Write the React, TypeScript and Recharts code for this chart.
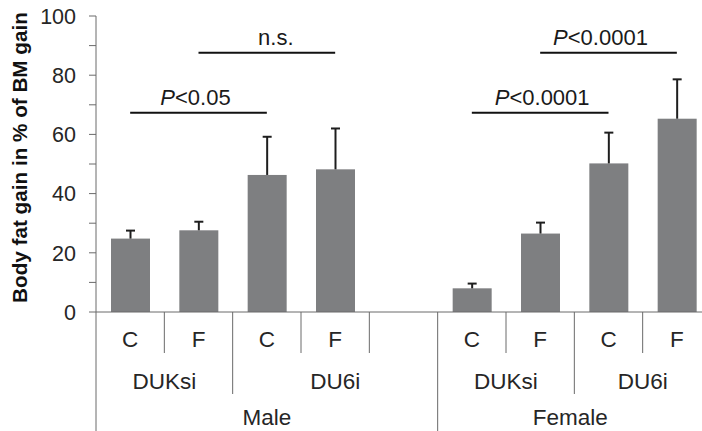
import React from 'react';
import { BarChart, Bar, XAxis, YAxis, ReferenceLine } from 'recharts';

const categories = ['M-DUKsi-C', 'M-DUKsi-F', 'M-DU6i-C', 'M-DU6i-F', 'gap', 'F-DUKsi-C', 'F-DUKsi-F', 'F-DU6i-C', 'F-DU6i-F'];
const dietLabels = ['C', 'F', 'C', 'F', '', 'C', 'F', 'C', 'F'];
const means: (number | null)[] = [24.8, 27.6, 46.3, 48.2, null, 8.0, 26.5, 50.2, 65.3];
const errors: (number | null)[] = [2.7, 2.9, 12.9, 13.8, null, 1.6, 3.7, 10.4, 13.3];
const strainGroups = [
  { label: 'DUKsi', start: 0, end: 2 },
  { label: 'DU6i', start: 2, end: 5 },
  { label: 'DUKsi', start: 5, end: 7 },
  { label: 'DU6i', start: 7, end: 9 },
];
const sexGroups = [
  { label: 'Male', start: 0, end: 5 },
  { label: 'Female', start: 5, end: 9 },
];
const yTicks = [0, 10, 20, 30, 40, 50, 60, 70, 80, 90, 100];
const yLabelTicks = [0, 20, 40, 60, 80, 100];
const annotations = [
  { from: 'M-DUKsi-C', to: 'M-DU6i-C', y: 67.3, italic: 'P', text: '<0.05' },
  { from: 'M-DUKsi-F', to: 'M-DU6i-F', y: 87.6, italic: '', text: 'n.s.' },
  { from: 'F-DUKsi-C', to: 'F-DU6i-C', y: 67.3, italic: 'P', text: '<0.0001' },
  { from: 'F-DUKsi-F', to: 'F-DU6i-F', y: 87.6, italic: 'P', text: '<0.0001' },
];
const yTitle = 'Body fat gain in % of BM gain';

const data = categories.map((id, i) => ({ id, mean: means[i], err: errors[i], diet: dietLabels[i] }));

const FONT = '"Liberation Sans", Arial, Helvetica, sans-serif';
const TEXT = '#262626';
const AXIS = '#6a6a6a';
// small horizontal nudges of the significance labels relative to their line centre
const SIG_NUDGE = [-3, 9, 2, -8];

const BarWithError = (props: any) => {
  const { x, y, width, height, payload } = props;
  if (!payload || payload.mean == null || !height) return null;
  const pxPerUnit = height / payload.mean;
  const top = y - (payload.err || 0) * pxPerUnit;
  const cx = x + width / 2;
  return (
    <g>
      <rect x={x} y={y} width={width} height={height} fill="#7e7f81" />
      <line x1={cx} x2={cx} y1={y} y2={top} stroke="#1e1e1e" strokeWidth={2} />
      <line x1={cx - 4.5} x2={cx + 4.5} y1={top} y2={top} stroke="#1e1e1e" strokeWidth={2} />
    </g>
  );
};

const XTick = (props: any) => {
  const { x, y, payload, index, width, visibleTicksCount } = props;
  const half = payload && payload.offset ? payload.offset : width / (visibleTicksCount || categories.length) / 2;
  const slot = half * 2;
  const left = x - half;
  const isSex = sexGroups.some((g) => g.start === index);
  const isStrain = strainGroups.some((g) => g.start === index);
  const depth = isSex ? 125 : isStrain ? 82 : 41;
  const strain = strainGroups.find((g) => g.start === index);
  const sex = sexGroups.find((g) => g.start === index);
  const t = { fontFamily: FONT, fontSize: 22.5, fill: TEXT, textAnchor: 'middle' as const };
  return (
    <g>
      <line x1={left} x2={left} y1={y} y2={y + depth} stroke={AXIS} strokeWidth={1} />
      {dietLabels[index] ? (
        <text x={x} y={y + 27} dy="0.36em" {...t}>{dietLabels[index]}</text>
      ) : null}
      {strain ? (
        <text x={left + ((strain.end - strain.start) * slot) / 2} y={y + 69} dy="0.36em" {...t}>{strain.label}</text>
      ) : null}
      {sex ? (
        <text x={left + ((sex.end - sex.start) * slot) / 2 - (sex.label === 'Female' ? 4 : 0)} y={y + 105} dy="0.36em" {...t}>{sex.label}</text>
      ) : null}
    </g>
  );
};

const YTick = (props: any) => {
  const { x, y, payload } = props;
  if (!yLabelTicks.includes(payload.value)) return null;
  return (
    <text x={x} y={y} dy="0.36em" textAnchor="end" fontFamily={FONT} fontSize={21.5} fill={TEXT}>
      {payload.value}
    </text>
  );
};

const YTitle = (props: any) => {
  const vb = props.viewBox || { x: 0, y: 16, width: 96, height: 296 };
  const cx = vb.x + 20;
  const cy = vb.y + vb.height / 2 - 6.5;
  return (
    <text x={cx} y={cy} dy="0.36em" textAnchor="middle" transform={`rotate(-90, ${cx}, ${cy})`} fontFamily={FONT} fontWeight="bold" fontSize={20.7} fill="#111">
      {yTitle}
    </text>
  );
};

const makeSigLabel = (italic: string, text: string, nudge: number) => (props: any) => {
  const vb = props.viewBox;
  if (!vb) return null;
  const cx = vb.x + vb.width / 2 + nudge;
  return (
    <text x={cx} y={vb.y - 8} textAnchor="middle" fontFamily={FONT} fontSize={22} fill="#1a1a1a">
      {italic ? <tspan fontStyle="italic">{italic}</tspan> : null}
      <tspan>{text}</tspan>
    </text>
  );
};

function YTitleWrapper(props: any) {
  return <YTitle {...props} />;
}

export default function App() {
  return (
    <div style={{ position: 'fixed', left: 0, top: 0, width: 702, height: 431, overflow: 'hidden', background: '#fff' }}>
      <BarChart width={711} height={431} data={data} margin={{ top: 16, right: 0, bottom: 0, left: 0 }} barSize={39}>
        <XAxis
          dataKey="id"
          height={119}
          interval={0}
          tickLine={false}
          tickSize={0}
          tickMargin={0}
          axisLine={{ stroke: AXIS, strokeWidth: 1 }}
          tick={<XTick />}
        />
        <YAxis
          width={96}
          domain={[0, 100]}
          ticks={yTicks}
          interval={0}
          tickSize={7}
          tickMargin={13}
          tickLine={{ stroke: AXIS, strokeWidth: 1 }}
          axisLine={{ stroke: AXIS, strokeWidth: 1 }}
          tick={<YTick />}
          label={<YTitleWrapper />}
        />
        <Bar dataKey="mean" isAnimationActive={false} shape={<BarWithError />} />
        {annotations.map((a, i) => (
          <ReferenceLine
            key={i}
            segment={[{ x: a.from, y: a.y }, { x: a.to, y: a.y }]}
            stroke="#111"
            strokeWidth={2}
            ifOverflow="visible"
            label={makeSigLabel(a.italic, a.text, SIG_NUDGE[i])}
          />
        ))}
      </BarChart>
    </div>
  );
}
